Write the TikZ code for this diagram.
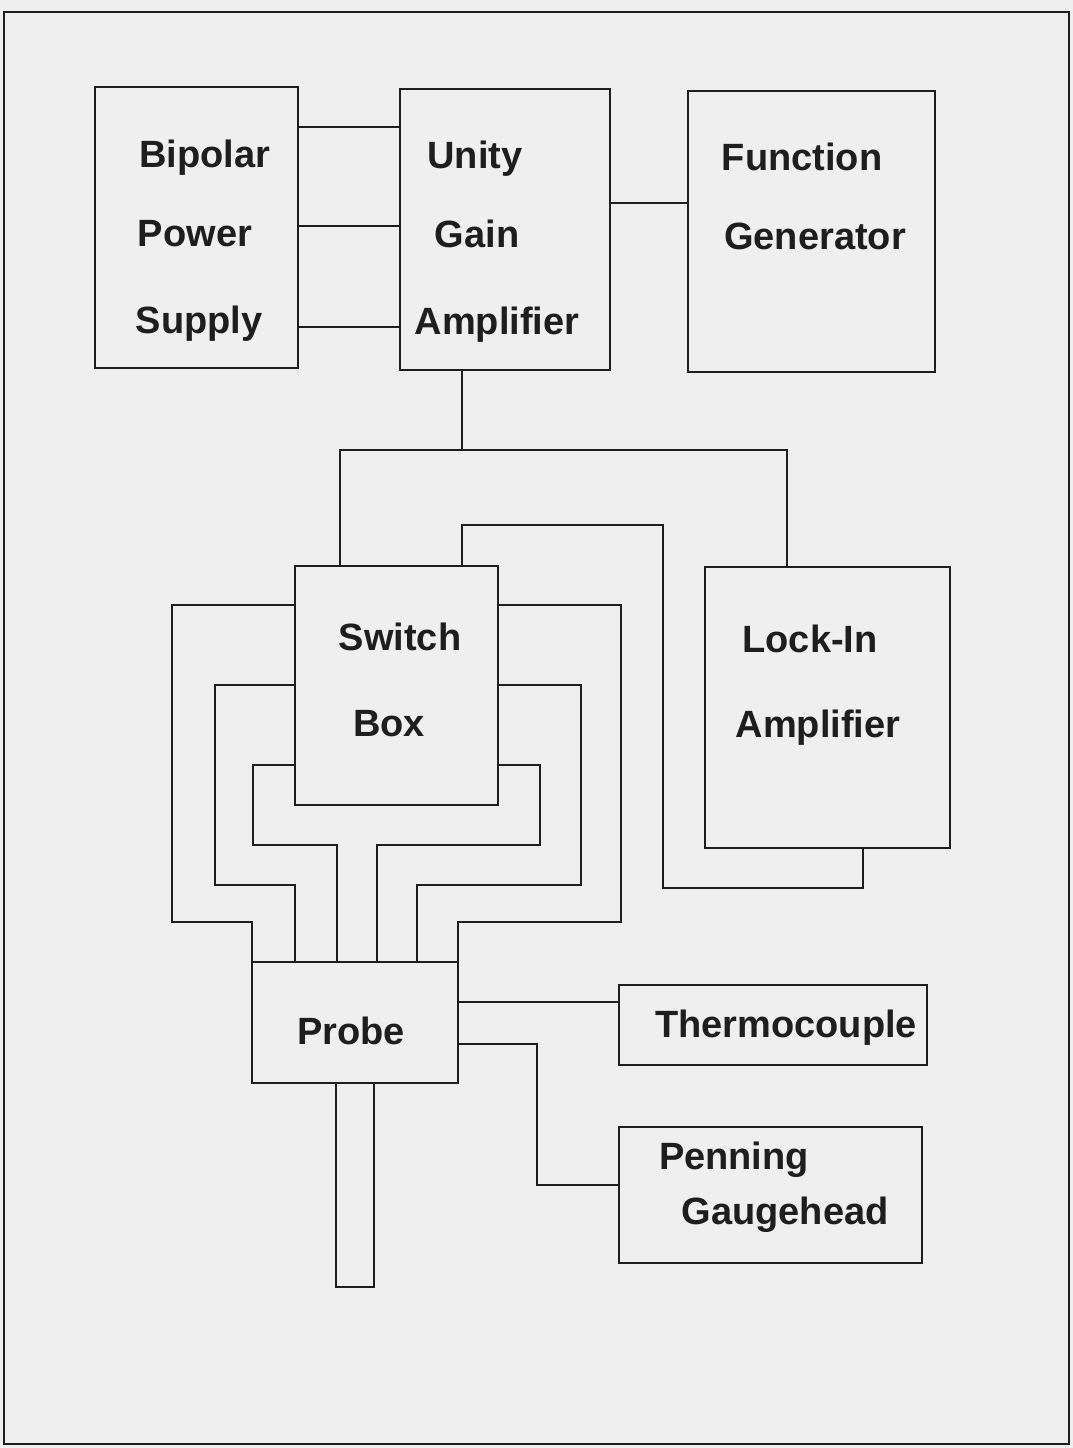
\documentclass[tikz,border=0pt]{standalone}
\usepackage{fontspec}
\setmainfont{Liberation Sans}
\usetikzlibrary{calc}
\definecolor{paper}{RGB}{239,239,239}
\definecolor{ink}{RGB}{30,30,30}
\begin{document}
\begin{tikzpicture}[x=1pt,y=-1pt,
  blk/.style={draw=ink, line width=2.6pt, inner sep=0pt, outer sep=0pt, anchor=north west, rectangle},
  wire/.style={draw=ink, line width=2.6pt, line join=miter},
  lbl/.style={text=ink, inner sep=0pt, anchor=base, font=\fontsize{38}{46}\selectfont\bfseries}]
\useasboundingbox (0,0) rectangle (1073,1448);
\fill[paper] (0,0) rectangle (1073,1448);
\draw[ink, line width=2.8pt] (4,12) rectangle (1069,1444);

% boxes
\node[blk, minimum width=203pt, minimum height=281pt] (bps) at (95,87) {};
\node[blk, minimum width=210pt, minimum height=281pt] (uga) at (400,89) {};
\node[blk, minimum width=247pt, minimum height=281pt] (fg) at (688,91) {};
\node[blk, minimum width=203pt, minimum height=239pt] (sw) at (295,566) {};
\node[blk, minimum width=245pt, minimum height=281pt] (lia) at (705,567) {};
\node[blk, minimum width=206pt, minimum height=121pt] (prb) at (252,962) {};
\node[blk, minimum width=308pt, minimum height=80pt] (tc) at (619,985) {};
\node[blk, minimum width=303pt, minimum height=136pt] (pg) at (619,1127) {};

% probe stem
\draw[wire] ($(prb.south west)+(84,0)$) -- ++(0,204) -- ++(38,0) -- ($(prb.south west)+(122,0)$);

% labels
\node[lbl] (t1) at (205,167) {Bipolar};
\node[lbl] (t2) at (195,246) {Power};
\node[lbl] (t3) at (199,333) {Supply};
\node[lbl] (t4) at (475,168) {Unity};
\node[lbl] (t5) at (477,247) {Gain};
\node[lbl] (t6) at (497,334) {Amplifier};
\node[lbl] (t7) at (802,170) {Function};
\node[lbl] (t8) at (815,249) {Generator};
\node[lbl] (t9) at (400,650) {Switch};
\node[lbl] (t10) at (389,736) {Box};
\node[lbl] (t11) at (810,652) {Lock-In};
\node[lbl] (t12) at (818,737) {Amplifier};
\node[lbl] (t13) at (351,1044) {Probe};
\node[lbl] (t14) at (786,1037) {Thermocouple};
\node[lbl] (t15) at (734,1169) {Penning};
\node[lbl] (t16) at (785,1224) {Gaugehead};

% power supply to unity gain amplifier
\draw[wire] ($(bps.north east)+(0,40)$) -- ($(uga.north west)+(0,38)$);
\draw[wire] ($(bps.north east)+(0,139)$) -- ($(uga.north west)+(0,137)$);
\draw[wire] ($(bps.north east)+(0,240)$) -- ($(uga.north west)+(0,238)$);
% function generator to unity gain amplifier
\draw[wire] ($(uga.north east)+(0,114)$) -- ($(fg.north west)+(0,112)$);
% unity gain amplifier down to bus
\draw[wire] ($(uga.south west)+(62,0)$) -- ++(0,80);
% bus: switch box <-> lock-in amplifier
\draw[wire] ($(sw.north west)+(45,0)$) -- (340,450) -| ($(lia.north west)+(82,0)$);
% second loop: switch box <-> lock-in amplifier (bottom)
\draw[wire] ($(sw.north west)+(167,0)$) -- (462,525) -- (663,525) -- (663,888) -| ($(lia.south west)+(158,0)$);

% switch box to probe, left side
\draw[wire] ($(sw.north west)+(0,39)$) -- (172,605) -- (172,922) -- (252,922) -- (prb.north west);
\draw[wire] ($(sw.north west)+(0,119)$) -- (215,685) -- (215,885) -- (295,885) -- ($(prb.north west)+(43,0)$);
\draw[wire] ($(sw.north west)+(0,199)$) -- (253,765) -- (253,845) -- (337,845) -- ($(prb.north west)+(85,0)$);
% switch box to probe, right side
\draw[wire] ($(sw.north east)+(0,199)$) -- (540,765) -- (540,845) -- (377,845) -- ($(prb.north west)+(125,0)$);
\draw[wire] ($(sw.north east)+(0,119)$) -- (581,685) -- (581,885) -- (417,885) -- ($(prb.north west)+(165,0)$);
\draw[wire] ($(sw.north east)+(0,39)$) -- (621,605) -- (621,922) -- (458,922) -- (prb.north east);

% probe to thermocouple and penning gaugehead
\draw[wire] ($(prb.north east)+(0,40)$) -- ($(tc.north west)+(0,17)$);
\draw[wire] ($(prb.north east)+(0,82)$) -- (537,1044) -- (537,1185) -- ($(pg.north west)+(0,58)$);
\end{tikzpicture}
\end{document}
